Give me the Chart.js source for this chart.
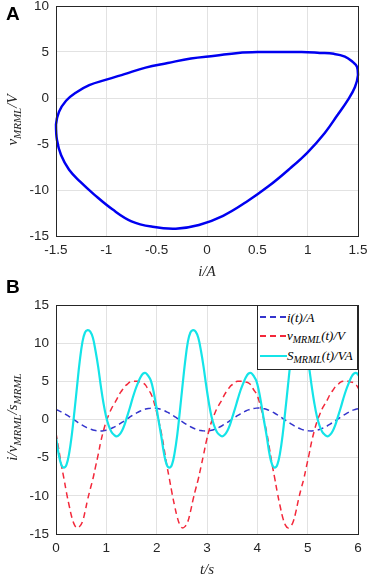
<!DOCTYPE html>
<html>
<head>
<meta charset="utf-8">
<script src="https://cdn.jsdelivr.net/npm/chart.js@4.4.1/dist/chart.umd.min.js"></script>
<style>
body { margin: 0; background: #fff; }
#fig { position: relative; width: 374px; height: 577px; overflow: hidden; }
.panel { position: absolute; left: 0; width: 374px; }
.tag { position: absolute; font: bold 19px 'Liberation Sans', Arial, sans-serif; line-height: 19px; color: #000; }
.ttl { position: absolute; font: italic 15px 'Liberation Serif', 'Times New Roman', serif; line-height: 15px; color: #262626; white-space: nowrap; }
.ttl sub { font-size: 11px; vertical-align: baseline; position: relative; top: 4px; line-height: 0; }
.rot { transform: translate(-50%, -50%) rotate(-90deg); }
.hz { transform: translate(-50%, 0); }
#legend { position: absolute; left: 257px; top: 305px; width: 101px; height: 65px; background: #fff; border: 1px solid #262626; box-sizing: border-box; }
.swatch { position: absolute; left: 2px; width: 27px; height: 2px; }
.lbl { position: absolute; left: 29px; font: italic 13px 'Liberation Serif', 'Times New Roman', serif; line-height: 13px; color: #000; white-space: nowrap; }
.lbl sub { font-size: 10px; vertical-align: baseline; position: relative; top: 3px; line-height: 0; }
</style>
</head>
<body>
<div id="fig">
  <div class="panel" style="top:0;height:290px"><canvas id="loopChart"></canvas></div>
  <div class="panel" style="top:290px;height:287px"><canvas id="timeChart"></canvas></div>

  <div class="tag" style="left:6px;top:4px">A</div>
  <div class="tag" style="left:6px;top:277px">B</div>

  <div class="ttl rot" style="left:12px;top:120px">v<sub>MRML</sub>/V</div>
  <div class="ttl hz" style="left:207px;top:264px">i/A</div>
  <div class="ttl rot" style="left:12px;top:417px">i/v<sub>MRML</sub>/s<sub>MRML</sub></div>
  <div class="ttl hz" style="left:207px;top:562px">t/s</div>

  <div id="legend">
    <div class="swatch" style="top:10px;background:repeating-linear-gradient(90deg,#3434cc 0 6px,transparent 6px 10px)"></div>
    <div class="lbl" style="top:5px">i(t)/A</div>
    <div class="swatch" style="top:29px;background:repeating-linear-gradient(90deg,#f3283a 0 6px,transparent 6px 10px)"></div>
    <div class="lbl" style="top:23px">v<sub>MRML</sub>(t)/V</div>
    <div class="swatch" style="top:49px;background:#14e4e8"></div>
    <div class="lbl" style="top:43px">S<sub>MRML</sub>(t)/VA</div>
  </div>
</div>

<script>
// time samples (s)
const times = [
  0, 0.052, 0.105, 0.157, 0.209, 0.262, 0.314, 0.367, 0.419, 0.471,
  0.524, 0.576, 0.628, 0.681, 0.733, 0.785, 0.838, 0.890, 0.942, 0.995,
  1.047, 1.100, 1.152, 1.204, 1.257, 1.309, 1.361, 1.414, 1.466, 1.518,
  1.571, 1.623, 1.676, 1.728, 1.780, 1.833, 1.885, 1.937, 1.990, 2.042,
  2.094, 2.147, 2.199, 2.251, 2.304, 2.356, 2.409, 2.461, 2.513, 2.566,
  2.618, 2.670, 2.723, 2.775, 2.827, 2.880, 2.932, 2.985, 3.037, 3.089,
  3.142, 3.194, 3.246, 3.299, 3.351, 3.403, 3.456, 3.508, 3.560, 3.613,
  3.665, 3.718, 3.770, 3.822, 3.875, 3.927, 3.979, 4.032, 4.084, 4.136,
  4.189, 4.241, 4.294, 4.346, 4.398, 4.451, 4.503, 4.555, 4.608, 4.660,
  4.712, 4.765, 4.817, 4.869, 4.922, 4.974, 5.027, 5.079, 5.131, 5.184,
  5.236, 5.288, 5.341, 5.393, 5.445, 5.498, 5.550, 5.603, 5.655, 5.707,
  5.760, 5.812, 5.864, 5.917, 5.969, 6.021
];

// i(t)/A
const current = [
  1.30, 1.17, 1.00, 0.82, 0.61, 0.39, 0.16, -0.08, -0.31, -0.54,
  -0.75, -0.94, -1.12, -1.26, -1.37, -1.45, -1.49, -1.50, -1.47, -1.40,
  -1.30, -1.17, -1.00, -0.82, -0.61, -0.39, -0.16, 0.08, 0.31, 0.54,
  0.75, 0.94, 1.12, 1.26, 1.37, 1.45, 1.49, 1.50, 1.47, 1.40,
  1.30, 1.17, 1.00, 0.82, 0.61, 0.39, 0.16, -0.08, -0.31, -0.54,
  -0.75, -0.94, -1.12, -1.26, -1.37, -1.45, -1.49, -1.50, -1.47, -1.40,
  -1.30, -1.17, -1.00, -0.82, -0.61, -0.39, -0.16, 0.08, 0.31, 0.54,
  0.75, 0.94, 1.12, 1.26, 1.37, 1.45, 1.49, 1.50, 1.47, 1.40,
  1.30, 1.17, 1.00, 0.82, 0.61, 0.39, 0.16, -0.08, -0.31, -0.54,
  -0.75, -0.94, -1.12, -1.26, -1.37, -1.45, -1.49, -1.50, -1.47, -1.40,
  -1.30, -1.17, -1.00, -0.82, -0.61, -0.39, -0.16, 0.08, 0.31, 0.54,
  0.75, 0.94, 1.12, 1.26, 1.37, 1.45
];

// v_MRML(t)/V
const voltage = [
  -1.8, -3.8, -5.9, -7.7, -9.6, -11.3, -12.8, -13.8, -14.2, -14.0,
  -13.4, -12.1, -10.5, -9.1, -7.8, -6.2, -4.6, -2.9, -1.5, -0.3,
  0.6, 1.4, 2.0, 2.6, 3.3, 3.8, 4.3, 4.6, 4.9, 5.0,
  5.0, 5.0, 4.9, 4.8, 4.5, 3.9, 3.4, 2.5, 1.2, -0.2,
  -1.8, -3.8, -5.9, -7.7, -9.6, -11.3, -12.8, -13.8, -14.2, -14.0,
  -13.4, -12.1, -10.5, -9.1, -7.8, -6.2, -4.6, -2.9, -1.5, -0.3,
  0.6, 1.4, 2.0, 2.6, 3.3, 3.8, 4.3, 4.6, 4.9, 5.0,
  5.0, 5.0, 4.9, 4.8, 4.5, 3.9, 3.4, 2.5, 1.2, -0.2,
  -1.8, -3.8, -5.9, -7.7, -9.6, -11.3, -12.8, -13.8, -14.2, -14.0,
  -13.4, -12.1, -10.5, -9.1, -7.8, -6.2, -4.6, -2.9, -1.5, -0.3,
  0.6, 1.4, 2.0, 2.6, 3.3, 3.8, 4.3, 4.6, 4.9, 5.0,
  5.0, 5.0, 4.9, 4.8, 4.5, 3.9
];

// S_MRML(t)/VA
const power = [
  -2.3, -4.5, -5.9, -6.3, -5.9, -4.4, -2.0, 1.1, 4.4, 7.6,
  10.1, 11.4, 11.7, 11.5, 10.7, 9.0, 6.9, 4.4, 2.2, 0.4,
  -0.8, -1.6, -2.0, -2.2, -2.0, -1.5, -0.7, 0.4, 1.5, 2.7,
  3.8, 4.7, 5.5, 6.0, 6.1, 5.7, 5.1, 3.7, 1.8, -0.3,
  -2.3, -4.5, -5.9, -6.3, -5.9, -4.4, -2.0, 1.1, 4.4, 7.6,
  10.1, 11.4, 11.7, 11.5, 10.7, 9.0, 6.9, 4.4, 2.2, 0.4,
  -0.8, -1.6, -2.0, -2.2, -2.0, -1.5, -0.7, 0.4, 1.5, 2.7,
  3.8, 4.7, 5.5, 6.0, 6.1, 5.7, 5.1, 3.7, 1.8, -0.3,
  -2.3, -4.5, -5.9, -6.3, -5.9, -4.4, -2.0, 1.1, 4.4, 7.6,
  10.1, 11.4, 11.7, 11.5, 10.7, 9.0, 6.9, 4.4, 2.2, 0.4,
  -0.8, -1.6, -2.0, -2.2, -2.0, -1.5, -0.7, 0.4, 1.5, 2.7,
  3.8, 4.7, 5.5, 6.0, 6.1, 5.7
];

const loopTicksX = [-1.5, -1, -0.5, 0, 0.5, 1, 1.5];
const loopTicksY = [-15, -10, -5, 0, 5, 10];
const timeTicksX = [0, 1, 2, 3, 4, 5, 6];
const timeTicksY = [-15, -10, -5, 0, 5, 10, 15];
const loopCount = 41; // one period, closed

const boxPlugin = {
    id: 'box',
    afterDatasetsDraw(chart) {
        const a = chart.chartArea;
        const ctx = chart.ctx;
        ctx.save();
        ctx.strokeStyle = '#262626';
        ctx.lineWidth = 1;
        ctx.strokeRect(Math.round(a.left) + 0.5, Math.round(a.top) + 0.5,
            Math.round(a.right - a.left), Math.round(a.bottom - a.top));
        ctx.restore();
    }
};

function axis(min, max, ticks, pos, size) {
    return {
        type: 'linear',
        min: min,
        max: max,
        position: pos,
        afterBuildTicks: s => { s.ticks = ticks.map(v => ({ value: v })); },
        afterFit: s => {
            if (pos === 'left') s.width = size; else s.height = size;
            // let layout padding alone decide where the plot box sits
            s.paddingTop = 0; s.paddingBottom = 0;
            s.paddingLeft = 0; s.paddingRight = 0;
        },
        grid: { color: '#e2e2e2', drawTicks: false },
        border: { color: '#262626' },
        ticks: {
            color: '#262626',
            font: { family: "'Liberation Sans', Arial, sans-serif", size: 13.5 },
            padding: pos === 'left' ? 7 : 6,
            maxRotation: 0,
            autoSkip: false,
            callback: v => String(v)
        }
    };
}

const loopPoints = [];
for (let k = 0; k < loopCount; k++) {
    loopPoints.push({ x: current[k], y: voltage[k] });
}

new Chart(document.getElementById('loopChart'), {
    type: 'scatter',
    data: {
        datasets: [{
            data: loopPoints,
            showLine: true,
            borderColor: '#0000f0',
            borderWidth: 2.5,
            pointRadius: 0,
            tension: 0.4,
            clip: false
        }]
    },
    options: {
        responsive: true,
        maintainAspectRatio: false,
        animation: false,
        layout: { padding: { top: 6, right: 16, left: 0, bottom: 0 } },
        plugins: { legend: { display: false }, tooltip: { enabled: false } },
        scales: {
            x: axis(-1.5, 1.5, loopTicksX, 'bottom', 54),
            y: axis(-15, 10, loopTicksY, 'left', 56)
        }
    },
    plugins: [boxPlugin]
});

const series = values => times.map((t, k) => ({ x: t, y: values[k] }));

new Chart(document.getElementById('timeChart'), {
    type: 'line',
    data: {
        datasets: [
            { label: 'i(t)/A', data: series(current), borderColor: '#3434cc', borderDash: [6, 4], borderWidth: 1.5, order: 2 },
            { label: 'v(t)/V', data: series(voltage), borderColor: '#f3283a', borderDash: [6, 4], borderWidth: 1.5, order: 1 },
            { label: 'S(t)/VA', data: series(power), borderColor: '#14e4e8', borderWidth: 2.2, order: 0 }
        ]
    },
    options: {
        responsive: true,
        maintainAspectRatio: false,
        animation: false,
        elements: { point: { radius: 0 }, line: { tension: 0.4 } },
        layout: { padding: { top: 15, right: 16, left: 0, bottom: 0 } },
        plugins: { legend: { display: false }, tooltip: { enabled: false } },
        scales: {
            x: axis(0, 6, timeTicksX, 'bottom', 43),
            y: axis(-15, 15, timeTicksY, 'left', 56)
        }
    },
    plugins: [boxPlugin]
});
</script>
</body>
</html>
